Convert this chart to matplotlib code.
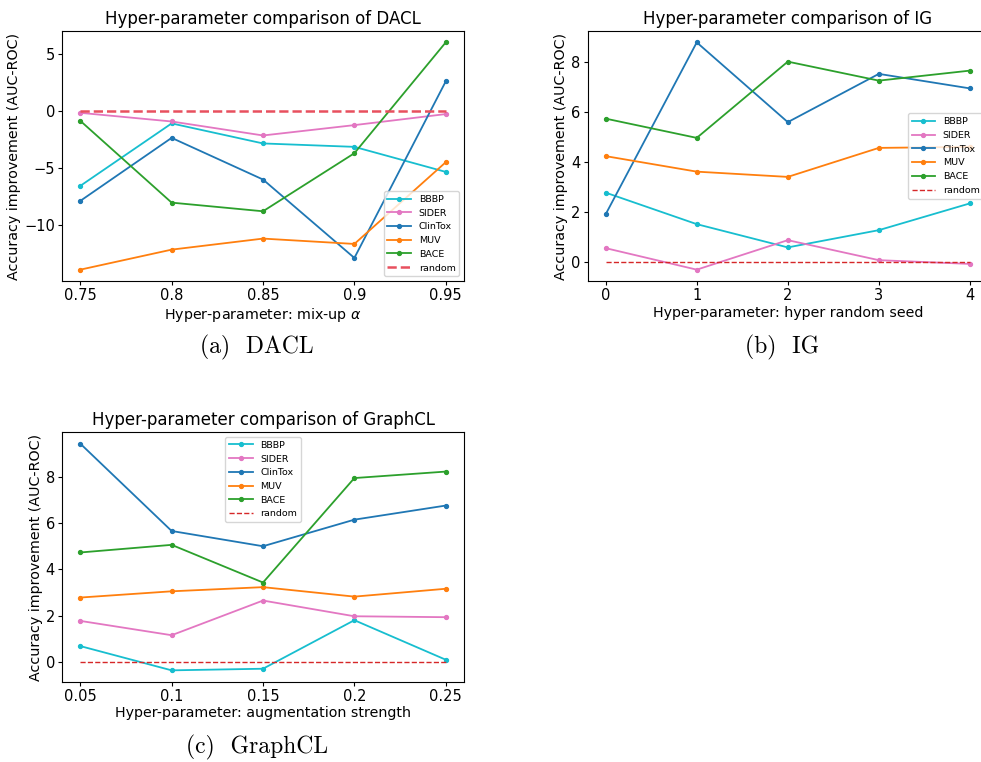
import matplotlib
matplotlib.use("Agg")
import matplotlib.pyplot as plt

datasets = ['BBBP', 'SIDER', 'ClinTox', 'MUV', 'BACE']
colors = ['tab:cyan', 'tab:pink', 'tab:blue', 'tab:orange', 'tab:green']

# DACL: mix-up alpha
dacl_x = [0.75, 0.8, 0.85, 0.9, 0.95]
dacl_labels = ['0.75', '0.8', '0.85', '0.9', '0.95']
dacl_yticks = [-10, -5, 0, 5]
dacl_bbbp = [-6.57, -1.08, -2.84, -3.14, -5.34]
dacl_sider = [-0.15, -0.91, -2.14, -1.23, -0.26]
dacl_clintox = [-7.89, -2.35, -6.01, -12.9, 2.61]
dacl_muv = [-13.93, -12.17, -11.2, -11.67, -4.49]
dacl_bace = [-0.85, -8.04, -8.8, -3.7, 6.04]

# IG: hyper random seed
ig_x = [0, 1, 2, 3, 4]
ig_labels = ['0', '1', '2', '3', '4']
ig_bbbp = [2.77, 1.51, 0.58, 1.27, 2.34]
ig_sider = [0.55, -0.31, 0.87, 0.07, -0.08]
ig_clintox = [1.91, 8.78, 5.59, 7.52, 6.94]
ig_muv = [4.23, 3.61, 3.40, 4.56, 4.6]
ig_bace = [5.73, 4.96, 8.01, 7.25, 7.65]

# GraphCL: augmentation strength
gcl_x = [0.05, 0.1, 0.15, 0.2, 0.25]
gcl_labels = ['0.05', '0.1', '0.15', '0.2', '0.25']
gcl_bbbp = [0.68, -0.37, -0.30, 1.80, 0.09]
gcl_sider = [1.77, 1.15, 2.65, 1.97, 1.93]
gcl_clintox = [9.44, 5.66, 5.0, 6.15, 6.76]
gcl_muv = [2.78, 3.05, 3.23, 2.82, 3.16]
gcl_bace = [4.73, 5.06, 3.43, 7.95, 8.23]


def draw(ax, x, labels, series, title, xlabel, loc, rand_style):
    for name, vals, c in zip(datasets, series, colors):
        ax.plot(x, vals, color=c, marker='o', markersize=2.8, linewidth=1.3, label=name)
    ax.plot(x, [0] * len(x), linestyle='--', label='random', **rand_style)
    ax.set_xticks(x)
    ax.set_xticklabels(labels)
    ax.tick_params(labelsize=10.5, length=3, pad=2)
    ax.set_title(title, fontsize=12, pad=5)
    ax.set_xlabel(xlabel, fontsize=10.3, labelpad=2)
    ax.set_ylabel('Accuracy improvement (AUC-ROC)', fontsize=10.3, labelpad=2)
    ax.legend(loc=loc, fontsize=6.8, handlelength=2.5)


fig = plt.figure(figsize=(9.81, 7.62), dpi=100)

ax1 = fig.add_axes([0.0632, 0.6312, 0.4098, 0.3281])
draw(ax1, dacl_x, dacl_labels, [dacl_bbbp, dacl_sider, dacl_clintox, dacl_muv, dacl_bace],
     'Hyper-parameter comparison of DACL', r'Hyper-parameter: mix-up $\alpha$', 'lower right',
     dict(color='#e8505e', linewidth=1.8))
ax1.set_yticks(dacl_yticks)

ax2 = fig.add_axes([0.5989, 0.6312, 0.4083, 0.3281])
draw(ax2, ig_x, ig_labels, [ig_bbbp, ig_sider, ig_clintox, ig_muv, ig_bace],
     'Hyper-parameter comparison of IG', 'Hyper-parameter: hyper random seed', 'center right',
     dict(color='#d62728', linewidth=1.0))

ax3 = fig.add_axes([0.0632, 0.1054, 0.4098, 0.3273])
draw(ax3, gcl_x, gcl_labels, [gcl_bbbp, gcl_sider, gcl_clintox, gcl_muv, gcl_bace],
     'Hyper-parameter comparison of GraphCL', 'Hyper-parameter: augmentation strength', 'upper center',
     dict(color='#d62728', linewidth=1.0))

cap = dict(ha='center', va='center', fontsize=17, family='cmr10')
fig.text(257 / 981, 1 - 347 / 762, '(a)  DACL', **cap)
fig.text(782 / 981, 1 - 347 / 762, '(b)  IG', **cap)
fig.text(257 / 981, 1 - 747 / 762, '(c)  GraphCL', **cap)

fig.savefig('out.png', dpi=100)
